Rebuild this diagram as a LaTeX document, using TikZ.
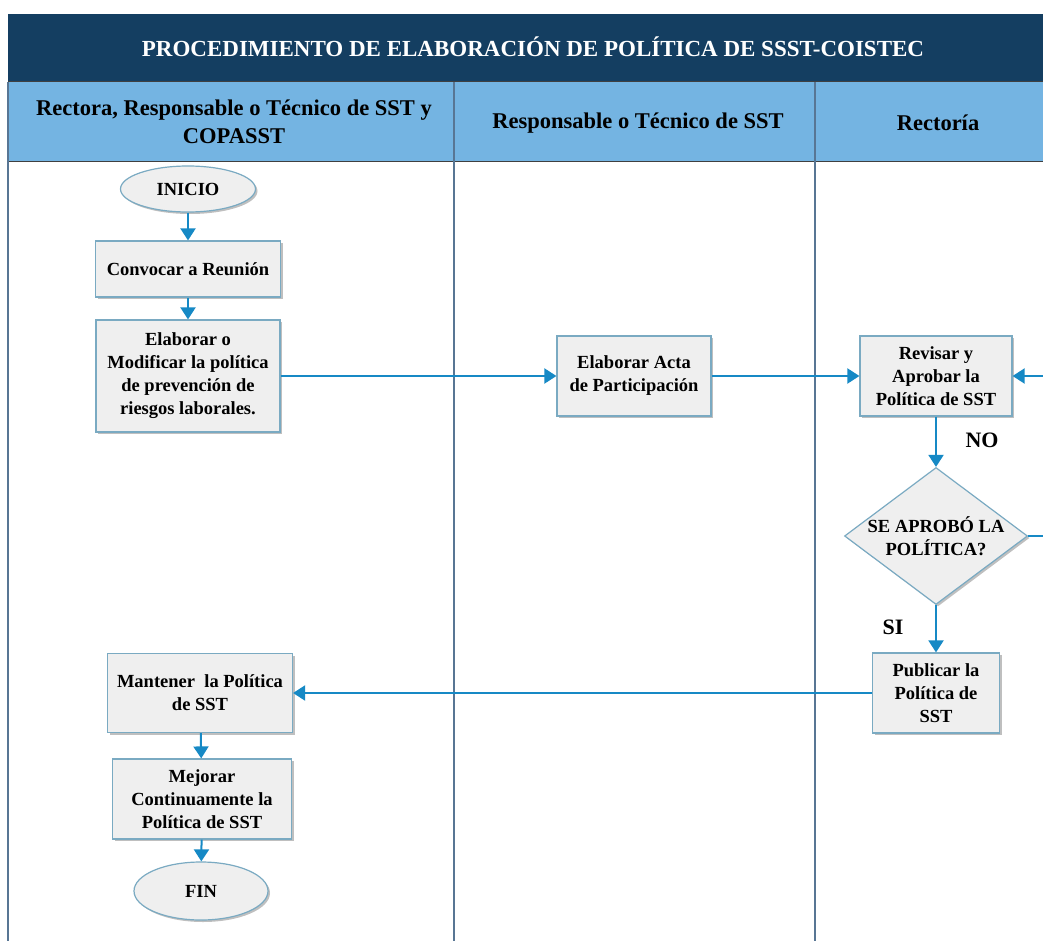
\documentclass[tikz,border=0pt]{standalone}
\usepackage{fontspec}
\setmainfont{Liberation Serif}
\usetikzlibrary{arrows.meta,shapes.geometric,shadows}
\definecolor{azultitulo}{RGB}{20,62,97}
\definecolor{azulcarril}{RGB}{116,180,226}
\definecolor{lineacarril}{RGB}{88,118,148}
\definecolor{azulflecha}{RGB}{22,137,197}
\definecolor{bordecaja}{RGB}{122,170,194}
\definecolor{fondocaja}{RGB}{239,239,239}
\begin{document}
\begin{tikzpicture}[x=1pt,y=-1pt,line width=1.5pt,
  sombra/.style={drop shadow={shadow xshift=2pt,shadow yshift=-2pt,opacity=0.25,fill=black}},
  caja/.style={draw=bordecaja,fill=fondocaja,line width=1.2pt,sombra,align=center,inner sep=2pt,
    font=\bfseries\fontsize{18.5}{23}\selectfont},
  terminal/.style={caja,ellipse},
  decision/.style={caja,diamond,aspect=1.336,inner sep=-1.5pt},
  flujo/.style={draw=azulflecha,line width=2pt,-{Triangle[length=12pt,width=15pt]}},
  etiqueta/.style={font=\bfseries\fontsize{22}{26}\selectfont},
  cabecera/.style={align=center,font=\bfseries\fontsize{22.5}{28}\selectfont}]
\useasboundingbox (0,0) rectangle (1043,941);
\clip (0,0) rectangle (1043,941);
\fill[white] (0,0) rectangle (1043,941);
\fill[azultitulo] (8,14) rectangle (1060,82);
\filldraw[fill=azulcarril,draw=black!75,line width=1pt] (8,82) rectangle (1060,162);
\foreach \x in {454,815}
  \draw[lineacarril,line width=1.2pt] (\x,82) -- (\x,945);
\draw[lineacarril,line width=1.2pt] (8,82) -- (8,945);
\node[cabecera,text=white,font=\bfseries\fontsize{23}{28}\selectfont] (titulo) at (533,47) {PROCEDIMIENTO DE ELABORACIÓN DE POLÍTICA DE SSST-COISTEC};
\node[cabecera] (carril1) at (234,122) {Rectora, Responsable o Técnico de SST y\\COPASST};
\node[cabecera] (carril2) at (638,123) {Responsable o Técnico de SST};
\node[cabecera] (carril3) at (938,123) {Rectoría};
\node[terminal,minimum width=135,minimum height=46] (inicio) at (188,189) {INICIO};
\node[caja,minimum width=185,minimum height=56] (convocar) at (188,269) {Convocar a Reunión};
\node[caja,minimum width=184,minimum height=112] (elaborar) at (188,376) {Elaborar o\\Modificar la política\\de prevención de\\riesgos laborales.};
\node[caja,minimum width=154,minimum height=80] (acta) at (634,376) {Elaborar Acta\\de Participación};
\node[caja,minimum width=152,minimum height=80] (revisar) at (936,376) {Revisar y\\Aprobar la\\Política de SST};
\node[decision,minimum width=183,minimum height=137] (aprobo) at (936,536) {SE APROBÓ LA\\POLÍTICA?};
\node[caja,minimum width=127,minimum height=80] (publicar) at (936,693) {Publicar la\\Política de\\SST};
\node[caja,minimum width=185,minimum height=79] (mantener) at (200,693) {Mantener\ \ la Política\\de SST};
\node[caja,minimum width=179,minimum height=80] (mejorar) at (202,799) {Mejorar\\Continuamente la\\Política de SST};
\node[terminal,minimum width=134,minimum height=58] (fin) at (201,891) {FIN};
\node[etiqueta] (no) at (982,440) {NO};
\node[etiqueta] (si) at (893,627) {SI};
\draw[flujo] (inicio) -- (convocar);
\draw[flujo] (convocar) -- (elaborar);
\draw[flujo] (elaborar) -- (acta);
\draw[flujo] (acta) -- (revisar);
\draw[flujo] (revisar) -- (aprobo);
\draw[flujo] (aprobo) -- (publicar);
\draw[flujo] (aprobo.east) -- ++(40,0) |- (revisar.east);
\draw[flujo] (publicar) -- (mantener);
\draw[flujo] (mantener) -- (mejorar);
\draw[flujo] (mejorar) -- (fin);
\end{tikzpicture}
\end{document}
